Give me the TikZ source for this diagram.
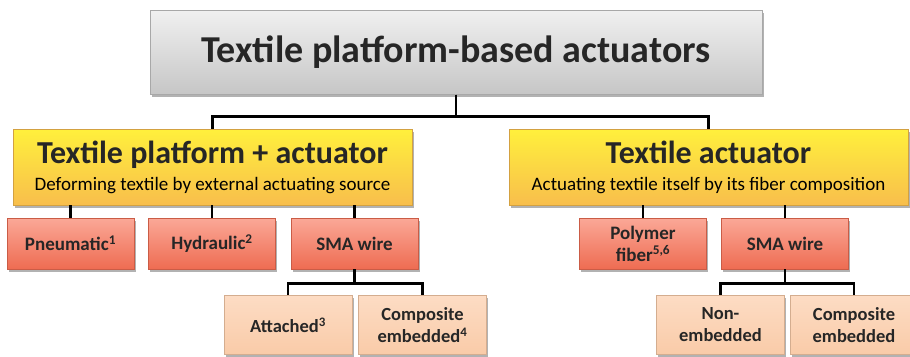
\documentclass[tikz,border=0pt]{standalone}
\usepackage{fontspec}
\setmainfont{Carlito}
\usetikzlibrary{positioning,shadows}

\definecolor{rootTop}{HTML}{F0F0F0}
\definecolor{rootBot}{HTML}{C6C6C6}
\definecolor{goldTop}{HTML}{FFF03C}
\definecolor{goldMid}{HTML}{FFE2A0}
\definecolor{goldBot}{HTML}{F8BE4C}
\definecolor{redTop}{HTML}{FBA897}
\definecolor{redBot}{HTML}{EE6C52}
\definecolor{peachTop}{HTML}{FDDCC4}
\definecolor{peachBot}{HTML}{F9CBA8}
\definecolor{inkGrey}{HTML}{262626}

\begin{document}
\begin{tikzpicture}[
    x=1pt, y=-1pt,
    boxbase/.style={inner sep=0pt, align=center, text=inkGrey,
      drop shadow={shadow xshift=1.5pt, shadow yshift=-2.5pt, opacity=0.3, fill=black}},
    rootbox/.style={boxbase, minimum width=612pt, minimum height=84pt,
      top color=rootTop, bottom color=rootBot, draw=rootBot!85!black, line width=0.4pt,
      font=\fontsize{38}{40}\selectfont\bfseries},
    groupbox/.style={boxbase, minimum width=399pt, minimum height=76pt,
      top color=goldTop, middle color=goldMid, bottom color=goldBot,
      draw=goldBot!85!black, line width=0.4pt, font=\fontsize{19}{21}\selectfont},
    leafbox/.style={boxbase, minimum width=127pt, minimum height=51pt,
      top color=redTop, bottom color=redBot, draw=redBot!85!black, line width=0.4pt,
      font=\fontsize{19}{22}\selectfont\bfseries},
    subbox/.style={boxbase, minimum width=128pt, minimum height=59pt,
      top color=peachTop, bottom color=peachBot, draw=peachBot!85!black, line width=0.4pt,
      font=\fontsize{18.5}{22}\selectfont\bfseries},
    link/.style={line width=2.8pt, black}
  ]
  \useasboundingbox (0,0) rectangle (910,356);
  \newcommand{\grouphead}[1]{{\fontsize{32}{34}\selectfont\bfseries #1}}
  \node[rootbox] (root) at (456,52.5) {Textile platform-based actuators};
  \node[groupbox] (plat) at (212.5,167)
    {\grouphead{Textile platform + actuator}\\[6pt]
     \textcolor{black}{Deforming textile by external actuating source}};
  \node[groupbox] (act) at (708.5,167)
    {\grouphead{Textile actuator}\\[6pt]
     \textcolor{black}{Actuating textile itself by its fiber composition}};
  % first row
  \node[leafbox] (pneu) at (70.5,243.5) {Pneumatic\textsuperscript{1}};
  \node[leafbox] (hydr) at (212,243.5) {Hydraulic\textsuperscript{2}};
  \node[leafbox] (smaA) at (354.5,243.5) {SMA wire};
  \node[leafbox] (poly) at (643,243.5) {Polymer\\fiber\textsuperscript{5,6}};
  \node[leafbox] (smaB) at (785,243.5) {SMA wire};
  % second row
  \node[subbox] (attc) at (288,325) {Attached\textsuperscript{3}};
  \node[subbox] (cmpA) at (422.5,325) {Composite\\embedded\textsuperscript{4}};
  \node[subbox] (nonE) at (720.5,325) {Non-\\embedded};
  \node[subbox] (cmpB) at (854,325) {Composite\\embedded};
  % Links
  \draw[link] (root.south) -- ++(0,22) -| (plat.north);
  \draw[link] (root.south) -- ++(0,22) -| (act.north);
  \draw[link] (pneu.north) -- (pneu.north |- plat.south);
  \draw[link] (hydr.north) -- (hydr.north |- plat.south);
  \draw[link] (smaA.north) -- (smaA.north |- plat.south);
  \draw[link] (poly.north) -- (poly.north |- act.south);
  \draw[link] (smaB.north) -- (smaB.north |- act.south);
  \draw[link] (smaA.south) -- ++(0,14) -| (attc.north);
  \draw[link] (smaA.south) -- ++(0,14) -| (cmpA.north);
  \draw[link] (smaB.south) -- ++(0,14) -| (nonE.north);
  \draw[link] (smaB.south) -- ++(0,14) -| (cmpB.north);
\end{tikzpicture}
\end{document}
